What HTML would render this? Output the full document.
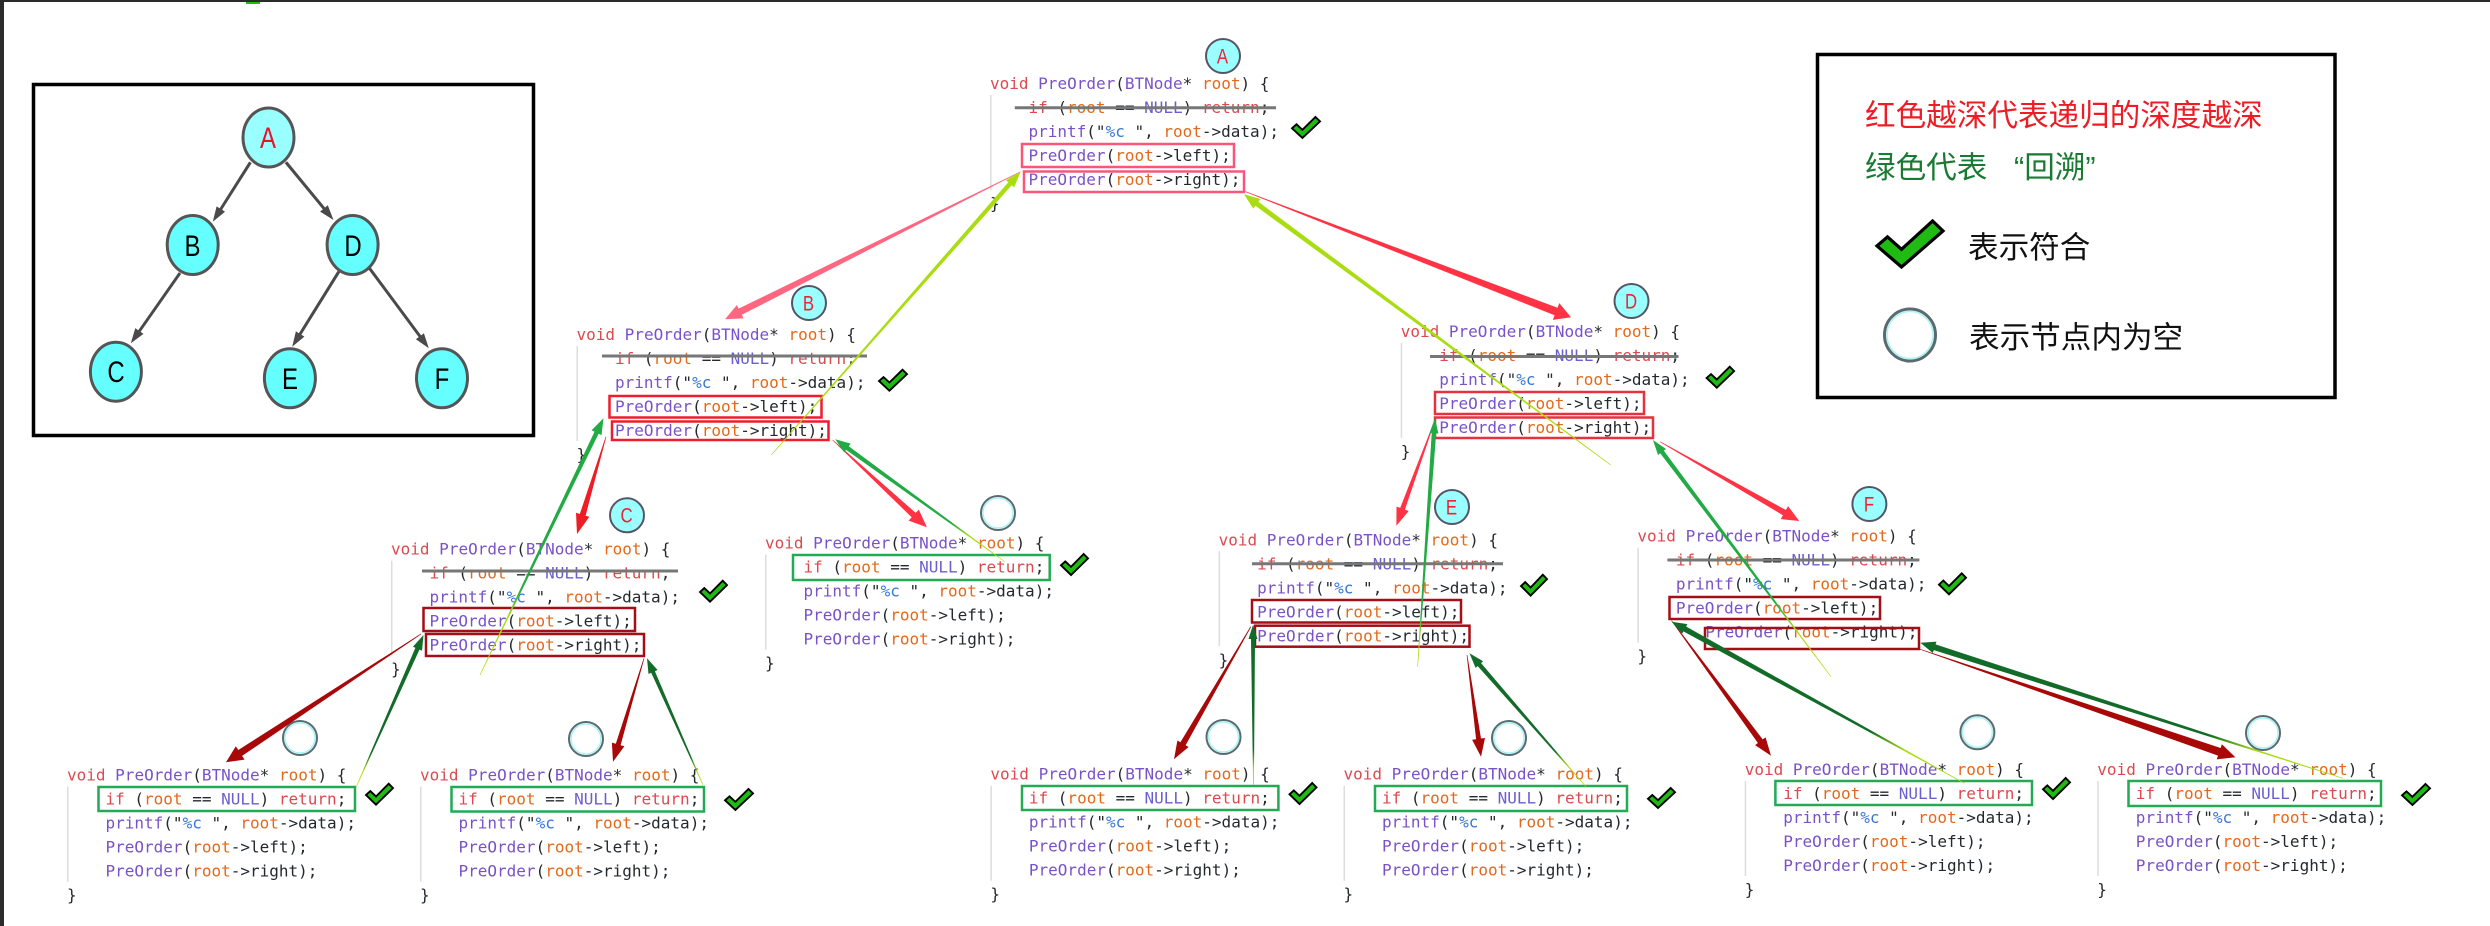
<!DOCTYPE html>
<html lang="zh"><head><meta charset="utf-8"><title>PreOrder</title>
<style>
html,body{margin:0;padding:0;background:#fff}
svg{display:block}
.c text{font-family:"DejaVu Sans Mono","Liberation Mono",monospace;font-size:16px;fill:#24292e;white-space:pre}
.k{fill:#dc4a4f}.f{fill:#7a52c7}.v{fill:#e36a1c}.n{fill:#6a5fd0}.s{fill:#3a78d8}
.g{fill:#ddd}
.lg{font-family:"Liberation Sans","Noto Sans CJK SC",sans-serif;font-size:30.6px}
.nl{font-family:"Liberation Sans",sans-serif;text-anchor:middle}
.bx{fill:none;stroke-width:2.5}
.st{stroke:#777;stroke-width:3}
.cir{fill:#99ffff;stroke:#556;stroke-width:2}
.emp{fill:#fff;stroke:#5a6a70;stroke-width:2}
.emi{fill:none;stroke:#a8f4f4;stroke-width:1.5}
.ck{fill:#1fbb12;stroke:#000;stroke-width:1.9;stroke-linejoin:miter}
.tn{fill:#66ffff;stroke:#555;stroke-width:3}
</style></head><body>
<svg id="s" xmlns="http://www.w3.org/2000/svg" width="2490" height="926" viewBox="0 0 2490 926">
<rect width="2490" height="926" fill="#fff"/>
<rect width="2490" height="2" fill="#2b2b2b"/><rect width="4" height="926" fill="#2b2b2b"/>
<rect x="246" y="2" width="14" height="2" fill="#22bb11"/>

<!-- tree box -->
<rect x="33.5" y="84.5" width="500" height="351" fill="#fff" stroke="#000" stroke-width="3.5"/>
<ellipse class="tn" style="fill:#99ffff" cx="268.5" cy="137.5" rx="25.5" ry="29.5"/>
<ellipse class="tn" cx="192.7" cy="245" rx="25.5" ry="29.5"/>
<ellipse class="tn" cx="352.6" cy="245" rx="25.5" ry="29.5"/>
<ellipse class="tn" cx="115.9" cy="371.7" rx="25.5" ry="29.5"/>
<ellipse class="tn" cx="289.9" cy="378.3" rx="25.5" ry="29.5"/>
<ellipse class="tn" cx="442" cy="378.3" rx="25.5" ry="29.5"/>
<g class="nl" font-size="30">
<text transform="translate(268,148) scale(.8,1)" fill="#e8132a">A</text>
<text transform="translate(192.5,256) scale(.8,1)">B</text>
<text transform="translate(353,256) scale(.8,1)">D</text>
<text transform="translate(116,382) scale(.8,1)">C</text>
<text transform="translate(290,389) scale(.8,1)">E</text>
<text transform="translate(442,389) scale(.8,1)">F</text>
</g>

<!-- legend -->
<rect x="1817.5" y="54.5" width="517.5" height="343" fill="#fff" stroke="#000" stroke-width="3.5"/>
<text class="lg" x="1865" y="126" fill="#ee1c25">红色越深代表递归的深度越深</text>
<text class="lg" x="1865" y="178" fill="#1a7a33">绿色代表</text>
<text class="lg" x="2014" y="178" fill="#1a7a33">“回溯”</text>
<text class="lg" x="1968" y="258" fill="#111">表示符合</text>
<text class="lg" x="1969" y="348" fill="#111">表示节点内为空</text>
<polygon points="1932.6,221 1943,231 1901.5,267 1877,245.9 1887.5,236.9 1901.5,249.3" class="ck" style="stroke-width:3.2"/>
<ellipse class="emp" style="stroke-width:3" cx="1910" cy="335" rx="25.5" ry="26"/>
<ellipse class="emi" cx="1910" cy="335" rx="23" ry="23.5"/>

<!-- code blocks -->
<g class="c" transform="translate(990,89)"><rect class="g" x="0" y="6" width="1.5" height="95"/>
<text><tspan class="k">void</tspan> <tspan class="f">PreOrder</tspan>(<tspan class="f">BTNode</tspan>* <tspan class="v">root</tspan>) {</text>
<text x="38.5" y="24"><tspan class="k">if</tspan> (<tspan class="v">root</tspan> == <tspan class="n">NULL</tspan>) <tspan class="k">return</tspan>;</text>
<text x="38.5" y="48"><tspan class="f">printf</tspan>("<tspan class="s">%c</tspan> ", <tspan class="v">root</tspan>-&gt;data);</text>
<text x="38.5" y="72"><tspan class="f">PreOrder</tspan>(<tspan class="v">root</tspan>-&gt;left);</text>
<text x="38.5" y="96"><tspan class="f">PreOrder</tspan>(<tspan class="v">root</tspan>-&gt;right);</text>
<text y="120">}</text></g>

<g class="c" transform="translate(576.5,340)"><rect class="g" x="0" y="6" width="1.5" height="95"/>
<text><tspan class="k">void</tspan> <tspan class="f">PreOrder</tspan>(<tspan class="f">BTNode</tspan>* <tspan class="v">root</tspan>) {</text>
<text x="38.5" y="24"><tspan class="k">if</tspan> (<tspan class="v">root</tspan> == <tspan class="n">NULL</tspan>) <tspan class="k">return</tspan>;</text>
<text x="38.5" y="48"><tspan class="f">printf</tspan>("<tspan class="s">%c</tspan> ", <tspan class="v">root</tspan>-&gt;data);</text>
<text x="38.5" y="72"><tspan class="f">PreOrder</tspan>(<tspan class="v">root</tspan>-&gt;left);</text>
<text x="38.5" y="96"><tspan class="f">PreOrder</tspan>(<tspan class="v">root</tspan>-&gt;right);</text>
<text y="120">}</text></g>

<g class="c" transform="translate(1400.7,337)"><rect class="g" x="0" y="6" width="1.5" height="95"/>
<text><tspan class="k">void</tspan> <tspan class="f">PreOrder</tspan>(<tspan class="f">BTNode</tspan>* <tspan class="v">root</tspan>) {</text>
<text x="38.5" y="24"><tspan class="k">if</tspan> (<tspan class="v">root</tspan> == <tspan class="n">NULL</tspan>) <tspan class="k">return</tspan>;</text>
<text x="38.5" y="48"><tspan class="f">printf</tspan>("<tspan class="s">%c</tspan> ", <tspan class="v">root</tspan>-&gt;data);</text>
<text x="38.5" y="72"><tspan class="f">PreOrder</tspan>(<tspan class="v">root</tspan>-&gt;left);</text>
<text x="38.5" y="96"><tspan class="f">PreOrder</tspan>(<tspan class="v">root</tspan>-&gt;right);</text>
<text y="120">}</text></g>

<g class="c" transform="translate(391,554.7)"><rect class="g" x="0" y="6" width="1.5" height="95"/>
<text><tspan class="k">void</tspan> <tspan class="f">PreOrder</tspan>(<tspan class="f">BTNode</tspan>* <tspan class="v">root</tspan>) {</text>
<text x="38.5" y="24"><tspan class="k">if</tspan> (<tspan class="v">root</tspan> == <tspan class="n">NULL</tspan>) <tspan class="k">return</tspan>;</text>
<text x="38.5" y="48"><tspan class="f">printf</tspan>("<tspan class="s">%c</tspan> ", <tspan class="v">root</tspan>-&gt;data);</text>
<text x="38.5" y="72"><tspan class="f">PreOrder</tspan>(<tspan class="v">root</tspan>-&gt;left);</text>
<text x="38.5" y="96"><tspan class="f">PreOrder</tspan>(<tspan class="v">root</tspan>-&gt;right);</text>
<text y="120">}</text></g>

<g class="c" transform="translate(765,548.7)"><rect class="g" x="0" y="6" width="1.5" height="95"/>
<text><tspan class="k">void</tspan> <tspan class="f">PreOrder</tspan>(<tspan class="f">BTNode</tspan>* <tspan class="v">root</tspan>) {</text>
<text x="38.5" y="24"><tspan class="k">if</tspan> (<tspan class="v">root</tspan> == <tspan class="n">NULL</tspan>) <tspan class="k">return</tspan>;</text>
<text x="38.5" y="48"><tspan class="f">printf</tspan>("<tspan class="s">%c</tspan> ", <tspan class="v">root</tspan>-&gt;data);</text>
<text x="38.5" y="72"><tspan class="f">PreOrder</tspan>(<tspan class="v">root</tspan>-&gt;left);</text>
<text x="38.5" y="96"><tspan class="f">PreOrder</tspan>(<tspan class="v">root</tspan>-&gt;right);</text>
<text y="120">}</text></g>

<g class="c" transform="translate(67,780.7)"><rect class="g" x="0" y="6" width="1.5" height="95"/>
<text><tspan class="k">void</tspan> <tspan class="f">PreOrder</tspan>(<tspan class="f">BTNode</tspan>* <tspan class="v">root</tspan>) {</text>
<text x="38.5" y="24"><tspan class="k">if</tspan> (<tspan class="v">root</tspan> == <tspan class="n">NULL</tspan>) <tspan class="k">return</tspan>;</text>
<text x="38.5" y="48"><tspan class="f">printf</tspan>("<tspan class="s">%c</tspan> ", <tspan class="v">root</tspan>-&gt;data);</text>
<text x="38.5" y="72"><tspan class="f">PreOrder</tspan>(<tspan class="v">root</tspan>-&gt;left);</text>
<text x="38.5" y="96"><tspan class="f">PreOrder</tspan>(<tspan class="v">root</tspan>-&gt;right);</text>
<text y="120">}</text></g>

<g class="c" transform="translate(420,780.7)"><rect class="g" x="0" y="6" width="1.5" height="95"/>
<text><tspan class="k">void</tspan> <tspan class="f">PreOrder</tspan>(<tspan class="f">BTNode</tspan>* <tspan class="v">root</tspan>) {</text>
<text x="38.5" y="24"><tspan class="k">if</tspan> (<tspan class="v">root</tspan> == <tspan class="n">NULL</tspan>) <tspan class="k">return</tspan>;</text>
<text x="38.5" y="48"><tspan class="f">printf</tspan>("<tspan class="s">%c</tspan> ", <tspan class="v">root</tspan>-&gt;data);</text>
<text x="38.5" y="72"><tspan class="f">PreOrder</tspan>(<tspan class="v">root</tspan>-&gt;left);</text>
<text x="38.5" y="96"><tspan class="f">PreOrder</tspan>(<tspan class="v">root</tspan>-&gt;right);</text>
<text y="120">}</text></g>

<g class="c" transform="translate(1218.6,545.3)"><rect class="g" x="0" y="6" width="1.5" height="95"/>
<text><tspan class="k">void</tspan> <tspan class="f">PreOrder</tspan>(<tspan class="f">BTNode</tspan>* <tspan class="v">root</tspan>) {</text>
<text x="38.5" y="24"><tspan class="k">if</tspan> (<tspan class="v">root</tspan> == <tspan class="n">NULL</tspan>) <tspan class="k">return</tspan>;</text>
<text x="38.5" y="48"><tspan class="f">printf</tspan>("<tspan class="s">%c</tspan> ", <tspan class="v">root</tspan>-&gt;data);</text>
<text x="38.5" y="72"><tspan class="f">PreOrder</tspan>(<tspan class="v">root</tspan>-&gt;left);</text>
<text x="38.5" y="96"><tspan class="f">PreOrder</tspan>(<tspan class="v">root</tspan>-&gt;right);</text>
<text y="120">}</text></g>

<g class="c" transform="translate(990.4,779.7)"><rect class="g" x="0" y="6" width="1.5" height="95"/>
<text><tspan class="k">void</tspan> <tspan class="f">PreOrder</tspan>(<tspan class="f">BTNode</tspan>* <tspan class="v">root</tspan>) {</text>
<text x="38.5" y="24"><tspan class="k">if</tspan> (<tspan class="v">root</tspan> == <tspan class="n">NULL</tspan>) <tspan class="k">return</tspan>;</text>
<text x="38.5" y="48"><tspan class="f">printf</tspan>("<tspan class="s">%c</tspan> ", <tspan class="v">root</tspan>-&gt;data);</text>
<text x="38.5" y="72"><tspan class="f">PreOrder</tspan>(<tspan class="v">root</tspan>-&gt;left);</text>
<text x="38.5" y="96"><tspan class="f">PreOrder</tspan>(<tspan class="v">root</tspan>-&gt;right);</text>
<text y="120">}</text></g>

<g class="c" transform="translate(1343.5,779.7)"><rect class="g" x="0" y="6" width="1.5" height="95"/>
<text><tspan class="k">void</tspan> <tspan class="f">PreOrder</tspan>(<tspan class="f">BTNode</tspan>* <tspan class="v">root</tspan>) {</text>
<text x="38.5" y="24"><tspan class="k">if</tspan> (<tspan class="v">root</tspan> == <tspan class="n">NULL</tspan>) <tspan class="k">return</tspan>;</text>
<text x="38.5" y="48"><tspan class="f">printf</tspan>("<tspan class="s">%c</tspan> ", <tspan class="v">root</tspan>-&gt;data);</text>
<text x="38.5" y="72"><tspan class="f">PreOrder</tspan>(<tspan class="v">root</tspan>-&gt;left);</text>
<text x="38.5" y="96"><tspan class="f">PreOrder</tspan>(<tspan class="v">root</tspan>-&gt;right);</text>
<text y="120">}</text></g>

<g class="c" transform="translate(1637.4,541.7)"><rect class="g" x="0" y="6" width="1.5" height="95"/>
<text><tspan class="k">void</tspan> <tspan class="f">PreOrder</tspan>(<tspan class="f">BTNode</tspan>* <tspan class="v">root</tspan>) {</text>
<text x="38.5" y="24"><tspan class="k">if</tspan> (<tspan class="v">root</tspan> == <tspan class="n">NULL</tspan>) <tspan class="k">return</tspan>;</text>
<text x="38.5" y="48"><tspan class="f">printf</tspan>("<tspan class="s">%c</tspan> ", <tspan class="v">root</tspan>-&gt;data);</text>
<text x="38.5" y="72"><tspan class="f">PreOrder</tspan>(<tspan class="v">root</tspan>-&gt;left);</text>
<text x="68" y="96"><tspan class="f">PreOrder</tspan>(<tspan class="v">root</tspan>-&gt;right);</text>
<text y="120">}</text></g>

<g class="c" transform="translate(1744.7,775)"><rect class="g" x="0" y="6" width="1.5" height="95"/>
<text><tspan class="k">void</tspan> <tspan class="f">PreOrder</tspan>(<tspan class="f">BTNode</tspan>* <tspan class="v">root</tspan>) {</text>
<text x="38.5" y="24"><tspan class="k">if</tspan> (<tspan class="v">root</tspan> == <tspan class="n">NULL</tspan>) <tspan class="k">return</tspan>;</text>
<text x="38.5" y="48"><tspan class="f">printf</tspan>("<tspan class="s">%c</tspan> ", <tspan class="v">root</tspan>-&gt;data);</text>
<text x="38.5" y="72"><tspan class="f">PreOrder</tspan>(<tspan class="v">root</tspan>-&gt;left);</text>
<text x="38.5" y="96"><tspan class="f">PreOrder</tspan>(<tspan class="v">root</tspan>-&gt;right);</text>
<text y="120">}</text></g>

<g class="c" transform="translate(2097.3,775)"><rect class="g" x="0" y="6" width="1.5" height="95"/>
<text><tspan class="k">void</tspan> <tspan class="f">PreOrder</tspan>(<tspan class="f">BTNode</tspan>* <tspan class="v">root</tspan>) {</text>
<text x="38.5" y="24"><tspan class="k">if</tspan> (<tspan class="v">root</tspan> == <tspan class="n">NULL</tspan>) <tspan class="k">return</tspan>;</text>
<text x="38.5" y="48"><tspan class="f">printf</tspan>("<tspan class="s">%c</tspan> ", <tspan class="v">root</tspan>-&gt;data);</text>
<text x="38.5" y="72"><tspan class="f">PreOrder</tspan>(<tspan class="v">root</tspan>-&gt;left);</text>
<text x="38.5" y="96"><tspan class="f">PreOrder</tspan>(<tspan class="v">root</tspan>-&gt;right);</text>
<text y="120">}</text></g>

<!-- strike lines -->
<line class="st" x1="1014.8" y1="107.7" x2="1276" y2="107.7"/>
<line class="st" x1="602" y1="356" x2="867" y2="356"/>
<line class="st" x1="1430" y1="356.5" x2="1678.5" y2="356.5"/>
<line class="st" x1="422" y1="571" x2="678" y2="571"/>
<line class="st" x1="1252" y1="563.7" x2="1503" y2="563.7"/>
<line class="st" x1="1667.4" y1="560" x2="1919.4" y2="560"/>

<!-- boxes -->
<g class="bx" stroke="#f9567a">
<rect x="1022" y="144" width="212" height="23"/><rect x="1024" y="171.5" width="220" height="20.5"/></g>
<g class="bx" stroke="#ee1c2c">
<rect x="609.5" y="396" width="212" height="21.5"/><rect x="612" y="421.5" width="216.5" height="18.5"/></g>
<g class="bx" stroke="#e4323e">
<rect x="1435" y="392" width="209" height="22"/><rect x="1435" y="417.5" width="218" height="20.5"/></g>
<g class="bx" stroke="#a30f16">
<rect x="423.5" y="608" width="211.5" height="23"/><rect x="426" y="634" width="218" height="22"/>
<rect x="1252" y="600" width="209" height="22.5"/><rect x="1255" y="625.7" width="214.5" height="21"/>
<rect x="1669.5" y="597" width="210.5" height="22"/><rect x="1705" y="628" width="214" height="21"/></g>
<g class="bx" stroke="#22aa55">
<rect x="793" y="555" width="256.7" height="25"/>
<rect x="98.5" y="787" width="256.5" height="24"/>
<rect x="451.5" y="787" width="252.5" height="24.5"/>
<rect x="1022" y="786" width="256.4" height="24"/>
<rect x="1375" y="786" width="252" height="25"/>
<rect x="1775.4" y="781" width="256.6" height="24"/>
<rect x="2128.5" y="781" width="252.5" height="25"/></g>

<!-- small node circles -->
<circle class="cir" cx="1223" cy="56" r="17"/>
<circle class="cir" cx="809" cy="303" r="17"/>
<circle class="cir" cx="1631.5" cy="301" r="17"/>
<circle class="cir" cx="627" cy="515.3" r="17"/>
<circle class="cir" cx="1452" cy="507" r="17"/>
<circle class="cir" cx="1869.4" cy="504" r="17"/>
<g class="nl" font-size="21" fill="#ee2233">
<text transform="translate(1222.5,63.5) scale(.8,1)">A</text><text transform="translate(808.5,310.5) scale(.8,1)">B</text><text transform="translate(1631,308.5) scale(.8,1)">D</text>
<text transform="translate(626.5,522.5) scale(.8,1)">C</text><text transform="translate(1451.5,514.5) scale(.8,1)">E</text><text transform="translate(1869,511.5) scale(.8,1)">F</text></g>
<g>
<circle class="emp" cx="998" cy="513" r="17"/><circle class="emi" cx="998" cy="513" r="15"/>
<circle class="emp" cx="300" cy="738" r="17"/><circle class="emi" cx="300" cy="738" r="15"/>
<circle class="emp" cx="586" cy="739" r="17"/><circle class="emi" cx="586" cy="739" r="15"/>
<circle class="emp" cx="1223.5" cy="737" r="17"/><circle class="emi" cx="1223.5" cy="737" r="15"/>
<circle class="emp" cx="1509" cy="738" r="17"/><circle class="emi" cx="1509" cy="738" r="15"/>
<circle class="emp" cx="1977.4" cy="732.3" r="17"/><circle class="emi" cx="1977.4" cy="732.3" r="15"/>
<circle class="emp" cx="2263" cy="733" r="17"/><circle class="emi" cx="2263" cy="733" r="15"/>
</g>

<!-- checks -->
<g id="cks"></g>
<g id="arr"></g>
</svg>
<script>
var NS="http://www.w3.org/2000/svg",svg=document.getElementById("s"),A=document.getElementById("arr"),C=document.getElementById("cks"),gid=0;
function el(n,o,p){var e=document.createElementNS(NS,n);for(var k in o)e.setAttribute(k,o[k]);if(p)p.appendChild(e);return e}
function poly(x){
 return x.map(function(p){return p[0].toFixed(1)+","+p[1].toFixed(1)}).join(" ")
}
var defs=el("defs",{},svg);
function arrow(x1,y1,x2,y2,col,w,hw,hl,tw,lime,lf){
 var dx=x2-x1,dy=y2-y1,L=Math.hypot(dx,dy),u=dx/L,v=dy/L,nx=-v,ny=u;
 var bx=x2-u*hl,by=y2-v*hl;
 var pts=[[x1+nx*tw/2,y1+ny*tw/2],[bx+nx*w/2,by+ny*w/2],[bx+nx*hw/2,by+ny*hw/2],[x2,y2],[bx-nx*hw/2,by-ny*hw/2],[bx-nx*w/2,by-ny*w/2],[x1-nx*tw/2,y1-ny*tw/2]];
 var fill=col;
 if(lime){var id="g"+(gid++);var g=el("linearGradient",{id:id,gradientUnits:"userSpaceOnUse",x1:x1,y1:y1,x2:x2,y2:y2},defs);
  el("stop",{offset:0,"stop-color":lime},g);el("stop",{offset:lf||0.18,"stop-color":lime},g);el("stop",{offset:(lf||0.18)+0.12,"stop-color":col},g);fill="url(#"+id+")"}
 el("polygon",{points:poly(pts),fill:fill},A);
}
var LM="#aadd11",R1="#ff6680",R2="#ff3344",R3="#ee1c25",DR="#a80808",G1="#22aa44",DG="#126b28";
var list=[
[1020.6,171.7,725,319.3,R1,7,15,17,.6],
[771.3,455,1020.6,171.7,LM,4.5,11,16,.6],
[1245.6,191.7,1571,317.3,R2,8,18,16,.6],
[1610.8,465,1244,194.3,LM,5,12,16,.6],
[606,436.7,577,534,R3,6,14,20,.6],
[480,675,603.5,418.3,G1,4.5,11,16,.6,LM,.22],
[832.6,440,926.9,527.3,R2,6,15,18,.6],
[1004.7,561.7,835.3,439.3,G1,4.5,11,15,.6,LM,.2],
[421,634,226,762.3,DR,7,16,17,.6],
[356.3,786.7,423.5,635,DG,4.5,10,15,.6,LM,.1],
[644,658.3,613,761.7,DR,5,13,18,.6],
[703,785,647,658.3,DG,4,10,15,.6,LM,.1],
[1435,420,1396.4,525.7,R2,5,13,18,.6],
[1417.6,666.7,1435,418.3,G1,4.5,9,15,.6,LM,.1],
[1660,441.7,1799.2,521,R2,6,15,17,.6],
[1831,676.7,1653,440,G1,4.5,10,15,.6,LM,.2],
[1250.8,626.7,1174,759.3,DR,6,13,18,.6],
[1253.5,785,1253,625,DG,4,9,14,.8,LM,.1],
[1467,655,1481,756.7,DR,5,13,18,.6],
[1586,786.7,1469.5,653.3,DG,4.5,10,15,.6,LM,.15],
[1671.6,620.7,1771,755.7,DR,6,13,18,.6],
[1964.4,783.3,1671.6,621.7,DG,5.5,11,15,.6,LM,.2],
[1919.4,649,2235.4,757.3,DR,8,16,17,.6],
[2343,778.3,1920.4,642.7,DG,6,12,15,.6,LM,.2]
];
list.forEach(function(a){arrow.apply(null,a)});
// tree edges
[[250.4,162.3,212.8,221.7],[285.9,162.3,333.5,220],[180,273,130.8,343.3],[338.8,271.7,292.2,346.7],[369.5,268.3,428.8,348.3]].forEach(function(e){
 arrow(e[0],e[1],e[2],e[3],"#4a4a4a",3,10,15,3);
});
// check marks
var CK=[[.84,0],[1,.21],[.37,1],[0,.54],[.16,.35],[.37,.61]];
[[1292,117,28,21],[879,369.7,28,21],[1706.6,366.7,27.5,21],[700,580.7,27,21],[1061,554,27,21],[366,783.7,27,21],[725,789,28,21],[1521,574.7,26,21],[1939,573.3,27,21],[1289.5,783,27,21],[1648,788,27,20],[2043,778,27,21],[2402,784,28,21]].forEach(function(c){
 el("polygon",{"class":"ck",points:CK.map(function(p){return (c[0]+p[0]*c[2]).toFixed(1)+","+(c[1]+p[1]*c[3]).toFixed(1)}).join(" ")},C);
});
</script>
</body></html>
